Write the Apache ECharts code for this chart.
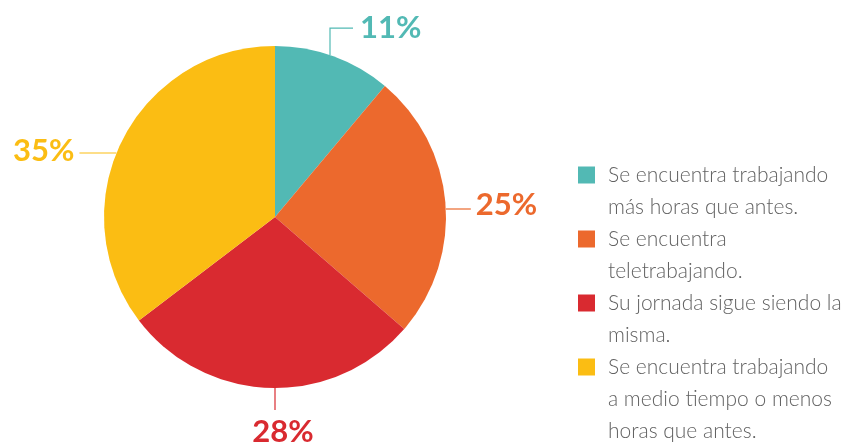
<!DOCTYPE html>
<html>
<head>
<meta charset="utf-8">
<script src="https://cdn.jsdelivr.net/npm/echarts@6/dist/echarts.min.js"></script>
<style>
html, body { margin: 0; padding: 0; background: #fff; }
#chart { width: 851px; height: 446px; }
</style>
</head>
<body>
<div id="chart"></div>
<script>
// datos del gráfico
var categories = [
    'Se encuentra trabajando\nmás horas que antes.',
    'Se encuentra\nteletrabajando.',
    'Su jornada sigue siendo la\nmisma.',
    'Se encuentra trabajando\na medio tiempo o menos\nhoras que antes.'
];
var values = [11, 25, 28, 35];
var colors = ['#52b9b4', '#ec692d', '#d92a30', '#fbbd13'];

// geometría del pastel
var cx = 275, cy = 217, radius = 171;
// por dónde sale cada línea de etiqueta
var labelSpots = [
    { dir: 'up', off: 55, len: 27, len2: 23 },
    { dir: 'right', off: -8, len: 25 },
    { dir: 'down', off: 0, len: 22 },
    { dir: 'left', off: -64, len: 37 }
];

var chart = echarts.init(document.getElementById('chart'));

function placeLabel(params) {
    var s = labelSpots[params.dataIndex];
    var across = Math.sqrt(radius * radius - s.off * s.off);
    var x0, y0, pts, res;
    if (s.dir === 'up') {
        x0 = cx + s.off; y0 = cy - across;
        pts = [[x0, y0], [x0, y0 - s.len], [x0 + s.len2, y0 - s.len]];
        res = { x: x0 + s.len2 + 7, y: y0 - s.len, align: 'left', verticalAlign: 'middle' };
    } else if (s.dir === 'right') {
        x0 = cx + across; y0 = cy + s.off;
        pts = [[x0, y0], [x0 + s.len, y0]];
        res = { x: x0 + s.len + 5, y: y0 - 4, align: 'left', verticalAlign: 'middle' };
    } else if (s.dir === 'down') {
        x0 = cx + s.off; y0 = cy + across;
        pts = [[x0, y0], [x0, y0 + s.len]];
        res = { x: x0 + 8, y: y0 + s.len + 22, align: 'center', verticalAlign: 'middle' };
    } else {
        x0 = cx - across; y0 = cy + s.off;
        pts = [[x0, y0], [x0 - s.len, y0]];
        res = { x: x0 - s.len - 5, y: y0 - 2, align: 'right', verticalAlign: 'middle' };
    }
    res.labelLinePoints = pts;
    return res;
}

// leyendas, una por elemento; líneas vacías arriba para que el cuadro
// quede a la altura de la primera línea de texto
var lh = 32;
var firstLine = 175;
var legends = categories.map(function (name) {
    var n = name.split('\n').length;
    var lg = {
        data: [name],
        orient: 'vertical',
        left: 578,
        top: firstLine - (2 * n - 1) * lh / 2,
        padding: 0,
        icon: 'rect',
        itemWidth: 17,
        itemHeight: 17,
        selectedMode: false,
        formatter: function (nm) {
            return new Array(n).join(' \n') + nm;
        },
        textStyle: {
            fontFamily: 'Lato',
            fontWeight: 300,
            fontSize: 21,
            lineHeight: lh,
            color: '#626262',
            padding: [0, 0, 0, 8]
        }
    };
    firstLine += n * lh;
    return lg;
});

var option = {
    animation: false,
    legend: legends,
    series: [
        {
            type: 'pie',
            center: [cx, cy],
            radius: radius,
            startAngle: 90,
            clockwise: true,
            avoidLabelOverlap: false,
            emphasis: { disabled: true },
            itemStyle: { borderWidth: 0 },
            label: {
                show: true,
                position: 'outside',
                fontFamily: 'Lato',
                fontWeight: 'bold',
                fontSize: 31,
                formatter: function (p) { return p.value + '%'; }
            },
            labelLine: { show: true, lineStyle: { width: 1.2 } },
            labelLayout: placeLabel,
            data: categories.map(function (name, i) {
                return {
                    name: name,
                    value: values[i],
                    itemStyle: { color: colors[i] },
                    label: { color: colors[i] }
                };
            })
        }
    ]
};

chart.setOption(option);
</script>
</body>
</html>
